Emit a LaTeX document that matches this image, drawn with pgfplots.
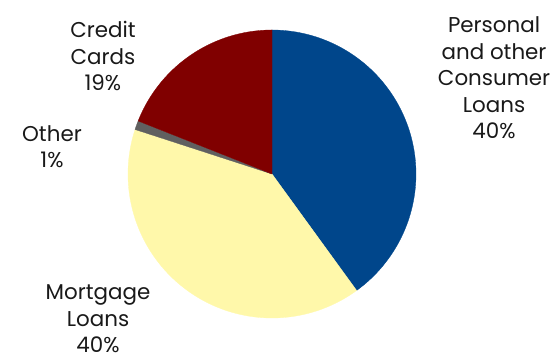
\documentclass[border=0pt]{standalone}
\usepackage{pgfplots}
\pgfplotsset{compat=1.18}
\usepackage{fontspec}
\setmainfont{Poppins}
\definecolor{cblue}{HTML}{00468B}
\definecolor{cyellow}{HTML}{FFF8AA}
\definecolor{cgray}{HTML}{606060}
\definecolor{cred}{HTML}{800000}
% shares in percent (clockwise from 12 o'clock)
\def\pPersonal{40}
\def\pMortgage{40}
\def\pOther{1}
\def\pCredit{19}
\begin{document}
\begin{tikzpicture}
\useasboundingbox (0,0) rectangle (553bp,355bp);
\pgfmathsetmacro{\aA}{90}
\pgfmathsetmacro{\aB}{\aA-3.6*\pPersonal}
\pgfmathsetmacro{\aC}{\aB-3.6*\pMortgage}
\pgfmathsetmacro{\aD}{\aC-3.6*\pOther}
\pgfmathsetmacro{\aE}{\aD-3.6*\pCredit}
\begin{axis}[
  at={(0,0)}, anchor=south west,
  scale only axis, width=553bp, height=355bp,
  xmin=-1.8889, xmax=1.9514, ymin=-1.2569, ymax=1.2083,
  hide axis, clip=false,
]
\addplot[fill=cblue, draw=cblue, line width=0.3pt, domain=\aB:\aA, samples=120, variable=\t] ({cos(t)},{sin(t)}) -- (axis cs:0,0) -- cycle;
\addplot[fill=cyellow, draw=cyellow, line width=0.3pt, domain=\aC:\aB, samples=120, variable=\t] ({cos(t)},{sin(t)}) -- (axis cs:0,0) -- cycle;
\addplot[fill=cgray, draw=cgray, line width=0.3pt, domain=\aD:\aC, samples=10, variable=\t] ({cos(t)},{sin(t)}) -- (axis cs:0,0) -- cycle;
\addplot[fill=cred, draw=cred, line width=0.3pt, domain=\aE:\aD, samples=80, variable=\t] ({cos(t)},{sin(t)}) -- (axis cs:0,0) -- cycle;
\begin{scope}[every node/.style={align=center, inner sep=0pt, font=\fontsize{21.5}{26.5}\selectfont, text=black!90}]
\node at (axis cs:1.542,0.667) {Personal\\and other\\Consumer\\Loans\\40\%};
\node at (axis cs:-1.174,0.819) {Credit\\Cards\\19\%};
\node at (axis cs:-1.528,0.1875) {Other\\1\%};
\node at (axis cs:-1.208,-1.007) {Mortgage\\Loans\\40\%};
\end{scope}
\end{axis}
\end{tikzpicture}
\end{document}
